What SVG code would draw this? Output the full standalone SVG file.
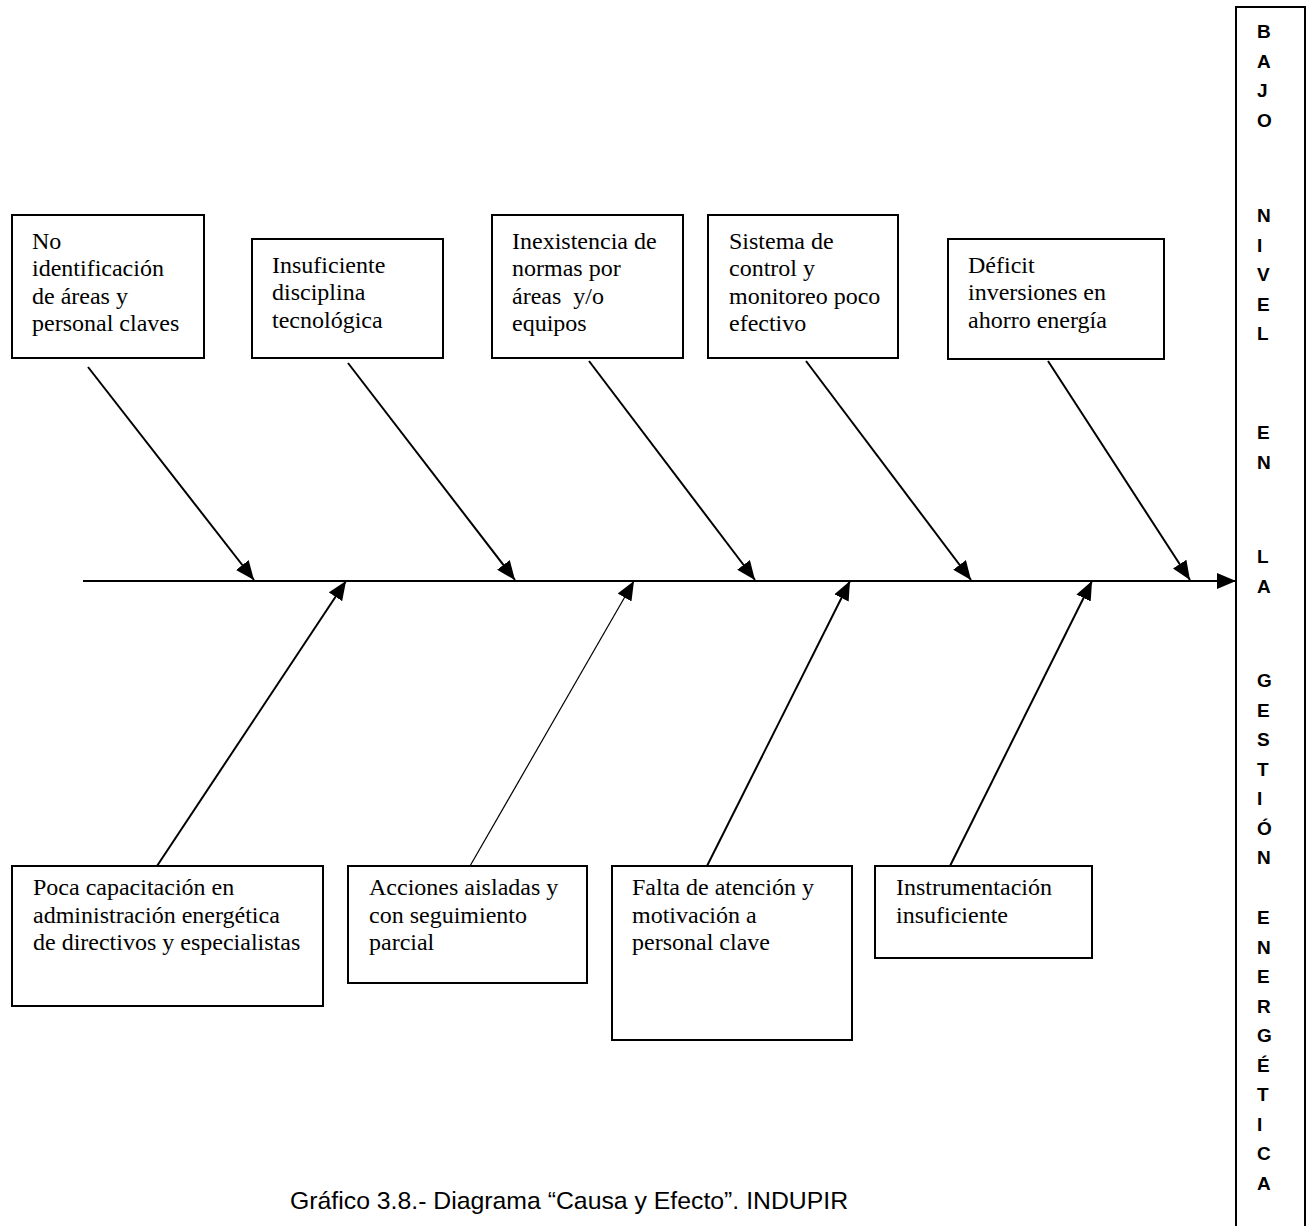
<svg xmlns="http://www.w3.org/2000/svg" width="1307" height="1226" viewBox="0 0 1307 1226">
<defs>
<marker id="ah" markerUnits="userSpaceOnUse" markerWidth="20" markerHeight="16" viewBox="0 0 20 16" refX="19" refY="8" orient="auto">
<path d="M0,0 L19,8 L0,16 Z" fill="#000"/>
</marker>
</defs>
<style>
.box{fill:#fff;stroke:#000;stroke-width:2}
.t{font-family:"Liberation Serif","Times New Roman",serif;font-size:24px;fill:#000}
.v{font-family:"Liberation Sans",Arial,sans-serif;font-size:19px;font-weight:bold;fill:#000}
.c{stroke:#000;stroke-width:2;fill:none;marker-end:url(#ah)}
.title{font-family:"Liberation Sans",Arial,sans-serif;font-size:24.8px;fill:#000}
</style>
<rect width="1307" height="1226" fill="#fff"/>
<g id="effect">
<rect x="1236" y="7" width="69" height="1230" fill="#fff" stroke="#000" stroke-width="2"/>
<text class="v" x="1257">
<tspan x="1257" y="38">B</tspan><tspan x="1257" y="67.5">A</tspan><tspan x="1257" y="97">J</tspan><tspan x="1257" y="126.5">O</tspan>
<tspan x="1257" y="222">N</tspan><tspan x="1257" y="251.5">I</tspan><tspan x="1257" y="281">V</tspan><tspan x="1257" y="310.5">E</tspan><tspan x="1257" y="340">L</tspan>
<tspan x="1257" y="439">E</tspan><tspan x="1257" y="468.5">N</tspan>
<tspan x="1257" y="563">L</tspan><tspan x="1257" y="592.5">A</tspan>
<tspan x="1257" y="687">G</tspan><tspan x="1257" y="716.5">E</tspan><tspan x="1257" y="746">S</tspan><tspan x="1257" y="775.5">T</tspan><tspan x="1257" y="805">I</tspan><tspan x="1257" y="834.5">Ó</tspan><tspan x="1257" y="864">N</tspan>
<tspan x="1257" y="924">E</tspan><tspan x="1257" y="953.5">N</tspan><tspan x="1257" y="983">E</tspan><tspan x="1257" y="1012.5">R</tspan><tspan x="1257" y="1042">G</tspan><tspan x="1257" y="1071.5">É</tspan><tspan x="1257" y="1101">T</tspan><tspan x="1257" y="1130.5">I</tspan><tspan x="1257" y="1160">C</tspan><tspan x="1257" y="1189.5">A</tspan>
</text>
</g>
<g id="connectors">
<line class="c" x1="83" y1="581" x2="1236" y2="581"/>
<line class="c" x1="88" y1="367" x2="254" y2="580"/>
<line class="c" x1="348" y1="363" x2="515" y2="580"/>
<line class="c" x1="589" y1="361" x2="755" y2="580"/>
<line class="c" x1="806" y1="361" x2="971" y2="580"/>
<line class="c" x1="1048" y1="361" x2="1190" y2="580"/>
<line class="c" x1="157" y1="866" x2="346" y2="581"/>
<line class="c" x1="470" y1="866" x2="634" y2="581" style="stroke-width:1.2"/>
<line class="c" x1="707" y1="866" x2="850" y2="581"/>
<line class="c" x1="948" y1="870" x2="1092" y2="581"/>
</g>
<g id="cause-top-1">
<rect class="box" x="12" y="215" width="192" height="143"/>
<text class="t"><tspan x="32" y="248.5">No</tspan><tspan x="32" y="276.1">identificación</tspan><tspan x="32" y="303.7">de áreas y</tspan><tspan x="32" y="331.3">personal claves</tspan></text>
</g>
<g id="cause-top-2">
<rect class="box" x="252" y="239" width="191" height="119"/>
<text class="t"><tspan x="272" y="272.5">Insuficiente</tspan><tspan x="272" y="300.1">disciplina</tspan><tspan x="272" y="327.7">tecnológica</tspan></text>
</g>
<g id="cause-top-3">
<rect class="box" x="492" y="215" width="191" height="143"/>
<text class="t"><tspan x="512" y="248.5">Inexistencia de</tspan><tspan x="512" y="276.1">normas por</tspan><tspan x="512" y="303.7" xml:space="preserve">áreas  y/o</tspan><tspan x="512" y="331.3">equipos</tspan></text>
</g>
<g id="cause-top-4">
<rect class="box" x="708" y="215" width="190" height="143"/>
<text class="t"><tspan x="729" y="248.5">Sistema de</tspan><tspan x="729" y="276.1">control y</tspan><tspan x="729" y="303.7">monitoreo poco</tspan><tspan x="729" y="331.3">efectivo</tspan></text>
</g>
<g id="cause-top-5">
<rect class="box" x="948" y="239" width="216" height="120"/>
<text class="t"><tspan x="968" y="272.5">Déficit</tspan><tspan x="968" y="300.1">inversiones en</tspan><tspan x="968" y="327.7">ahorro energía</tspan></text>
</g>
<g id="cause-bottom-1">
<rect class="box" x="12" y="866" width="311" height="140"/>
<text class="t"><tspan x="33" y="895">Poca capacitación en</tspan><tspan x="33" y="922.6">administración energética</tspan><tspan x="33" y="950.2">de directivos y especialistas</tspan></text>
</g>
<g id="cause-bottom-2">
<rect class="box" x="348" y="866" width="239" height="117"/>
<text class="t"><tspan x="369" y="895">Acciones aisladas y</tspan><tspan x="369" y="922.6">con seguimiento</tspan><tspan x="369" y="950.2">parcial</tspan></text>
</g>
<g id="cause-bottom-3">
<rect class="box" x="612" y="866" width="240" height="174"/>
<text class="t"><tspan x="632" y="895">Falta de atención y</tspan><tspan x="632" y="922.6">motivación a</tspan><tspan x="632" y="950.2">personal clave</tspan></text>
</g>
<g id="cause-bottom-4">
<rect class="box" x="875" y="866" width="217" height="92"/>
<text class="t"><tspan x="896" y="895">Instrumentación</tspan><tspan x="896" y="922.6">insuficiente</tspan></text>
</g>
<text class="title" x="290" y="1209">Gráfico 3.8.- Diagrama “Causa y Efecto”. INDUPIR</text>
</svg>
